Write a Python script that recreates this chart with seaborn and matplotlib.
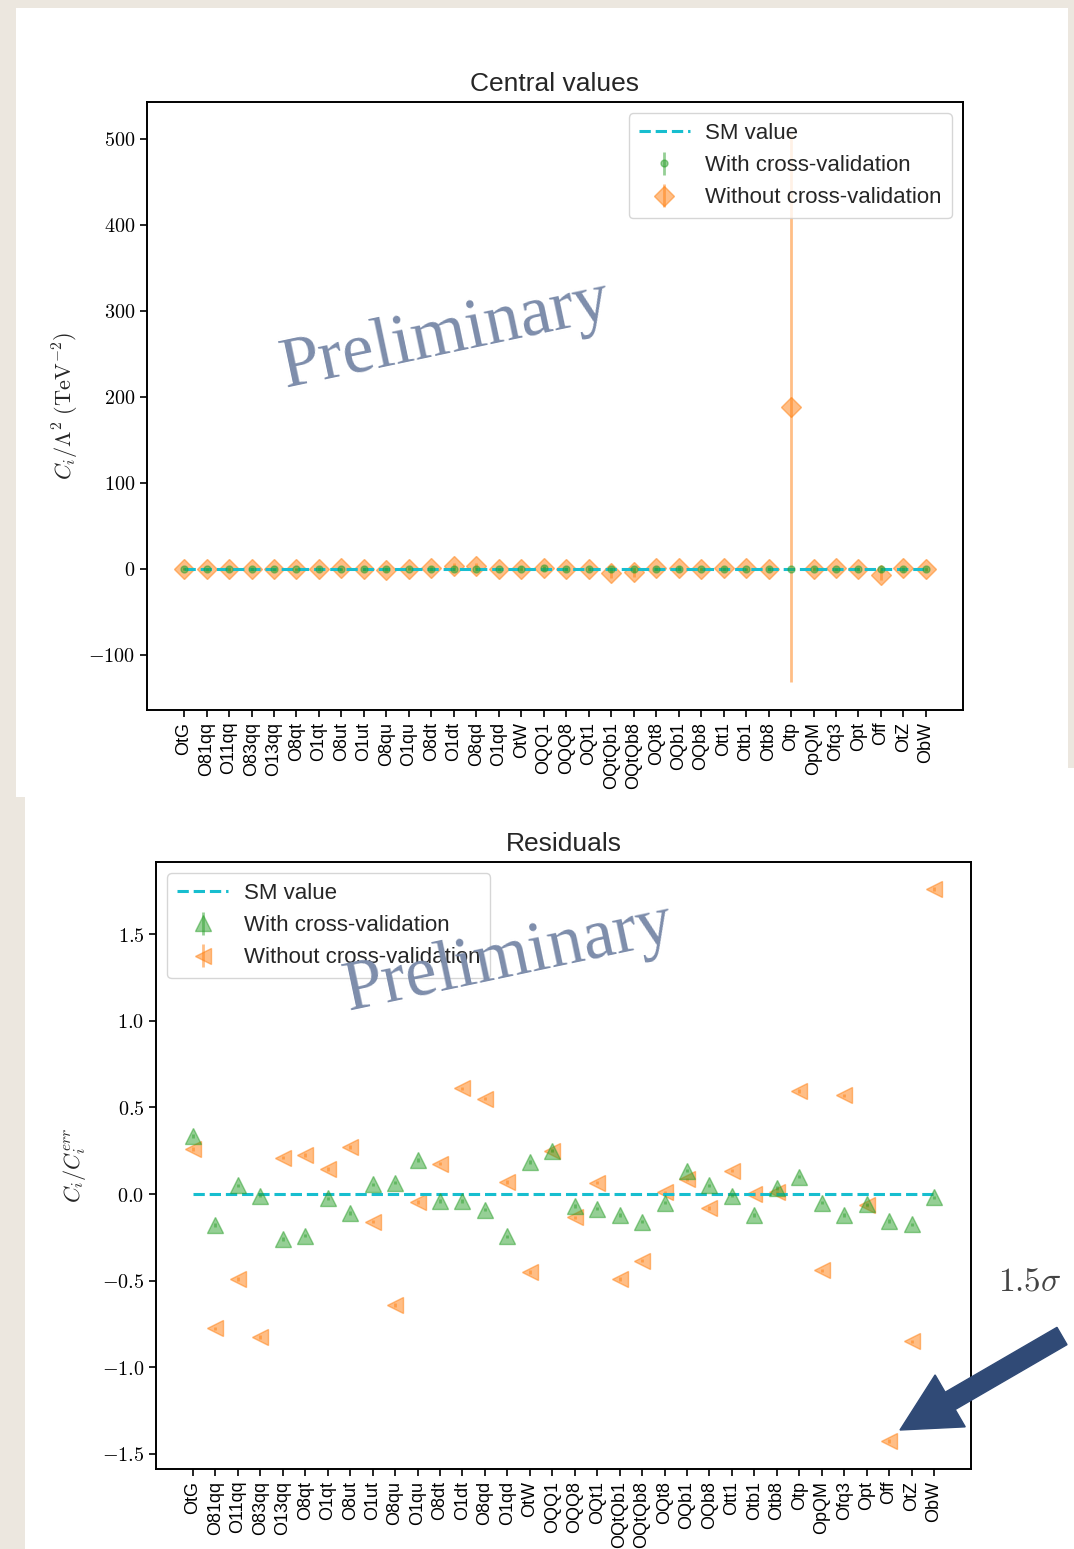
import numpy as np
import matplotlib
matplotlib.use("Agg")
import matplotlib.pyplot as plt
import seaborn as sns
import pandas as pd
from matplotlib.patches import Rectangle, FancyArrow
from matplotlib.ticker import FuncFormatter

labels = ['OtG', 'O81qq', 'O11qq', 'O83qq', 'O13qq', 'O8qt', 'O1qt', 'O8ut', 'O1ut',
          'O8qu', 'O1qu', 'O8dt', 'O1dt', 'O8qd', 'O1qd', 'OtW', 'OQQ1', 'OQQ8',
          'OQt1', 'OQtQb1', 'OQtQb8', 'OQt8', 'OQb1', 'OQb8', 'Ott1', 'Otb1', 'Otb8',
          'Otp', 'OpQM', 'Ofq3', 'Opt', 'Off', 'OtZ', 'ObW']

# central values (TeV^-2)
cv_central = [0.4, -0.3, 0.2, -0.1, -0.4, -0.3, -0.1, -0.3, 0.2, 0.3, 0.5, -0.1, -0.1,
              -0.3, -0.6, 0.5, 0.8, -0.2, -0.3, -0.4, -0.5, -0.1, 0.4, 0.1, -0.1, -0.3,
              0.1, 0.0, -0.1, -0.3, -0.2, -0.4, -0.5, -0.1]
cv_err = [1.5, 2.0, 2.0, 2.5, 2.0, 2.0, 2.0, 2.0, 2.0, 2.5, 2.0, 2.5, 2.5, 2.5, 2.0, 2.5,
          3.0, 2.5, 2.5, 3.0, 3.0, 2.5, 2.5, 2.5, 2.0, 2.0, 2.0, 0.5, 2.0, 2.0, 2.5, 3.0,
          2.5, 2.0]
nocv_central = [0.0, -0.5, -0.5, 0.0, 0.5, 0.0, 0.3, 0.8, 0.0, -1.5, 0.3, 1.0, 3.0, 3.5,
                0.3, 0.0, 1.0, -0.3, 0.3, -5.0, -4.0, 1.0, 0.8, 0.0, 0.6, 0.6, 0.3, 188.0,
                0.3, 0.8, 0.0, -7.0, 0.6, -0.3]
nocv_err = [1.5, 1.5, 1.5, 1.5, 1.5, 1.5, 1.5, 1.5, 1.5, 2.5, 1.5, 3.0, 3.5, 3.5, 1.5, 1.5,
            2.5, 1.5, 1.5, 6.0, 5.0, 1.5, 1.5, 1.5, 1.5, 1.5, 1.5, 320.0, 1.5, 1.5, 1.5,
            6.0, 1.5, 1.5]

# residuals C_i / C_i^err
cv_resid = [0.335, -0.18, 0.05, -0.01, -0.26, -0.24, -0.025, -0.11, 0.055, 0.065, 0.195,
            -0.04, -0.04, -0.09, -0.245, 0.185, 0.25, -0.07, -0.085, -0.12, -0.16, -0.05,
            0.135, 0.05, -0.01, -0.12, 0.035, 0.10, -0.05, -0.12, -0.06, -0.155, -0.175,
            -0.02]
nocv_resid = [0.26, -0.775, -0.49, -0.825, 0.21, 0.225, 0.145, 0.27, -0.16, -0.64, -0.045,
              0.175, 0.61, 0.55, 0.07, -0.45, 0.25, -0.135, 0.065, -0.49, -0.385, 0.01,
              0.085, -0.08, 0.135, 0.0, 0.01, 0.595, -0.44, 0.57, -0.065, -1.425, -0.85,
              1.76]
resid_err = [0.01] * len(labels)

sns.set_style("ticks")
plt.rcParams['font.family'] = ['Liberation Sans', 'DejaVu Sans']
plt.rcParams['mathtext.fontset'] = 'cm'
plt.rcParams['axes.edgecolor'] = 'black'
plt.rcParams['xtick.color'] = 'black'
plt.rcParams['ytick.color'] = 'black'

W, H = 1074, 1549
fig = plt.figure(figsize=(W / 100, H / 100), dpi=100)
fig.patch.set_facecolor('#ece7df')

# white slide panels (behind the axes)
fig.patches.append(Rectangle((16 / W, 1 - 797 / H), (1068 - 16) / W, (797 - 8) / H,
                             transform=fig.transFigure, facecolor='white', edgecolor='none', zorder=-5))
fig.patches.append(Rectangle((25 / W, 0), (W - 25) / W, 1 - 768 / H,
                             transform=fig.transFigure, facecolor='white', edgecolor='none', zorder=-5))


def px_axes(l, t, r, b):
    return fig.add_axes([l / W, 1 - b / H, (r - l) / W, (b - t) / H])


x = np.arange(len(labels))
sm = pd.DataFrame({'x': x, 'y': np.zeros(len(labels))})
green = '#2ca02c'
orange = '#ff7f0e'
cyan = '#17becf'
leg_kw = dict(fontsize=16, handlelength=2.3, handletextpad=0.7, borderpad=0.45,
              labelspacing=0.5)

# ---- central values
ax1 = px_axes(147, 102, 963, 710)
sns.lineplot(data=sm, x='x', y='y', ax=ax1, color=cyan, linestyle='--', lw=2.2,
             label='SM value', zorder=3)
ax1.errorbar(x, cv_central, yerr=cv_err, fmt='o', color=green, alpha=0.5, ms=5,
             lw=2, label='With cross-validation', zorder=4)
ax1.errorbar(x, nocv_central, yerr=nocv_err, fmt='D', color=orange, alpha=0.5, ms=10.5,
             lw=2, label='Without cross-validation', zorder=2)
ax1.set_ylim(-164, 543)
ax1.set_yticks([-100, 0, 100, 200, 300, 400, 500])
ax1.yaxis.set_major_formatter(FuncFormatter(lambda v, _: f"${v:g}$"))
ax1.set_title('Central values', fontsize=19, pad=8)
ax1.set_ylabel(r'$C_i/\Lambda^2\ (\mathrm{TeV}^{-2})$', fontsize=16, labelpad=5)
ax1.set_xlabel('')
ax1.legend(loc='upper right', **leg_kw)

# ---- residuals
ax2 = px_axes(156, 862, 971, 1469)
sns.lineplot(data=sm, x='x', y='y', ax=ax2, color=cyan, linestyle='--', lw=2.2,
             label='SM value', zorder=3)
ax2.errorbar(x, cv_resid, yerr=resid_err, fmt='^', color=green, alpha=0.5, ms=12,
             lw=2, label='With cross-validation', zorder=4)
ax2.errorbar(x, nocv_resid, yerr=resid_err, fmt='<', color=orange, alpha=0.5, ms=12,
             lw=2, label='Without cross-validation', zorder=2)
ax2.set_ylim(-1.587, 1.916)
ax2.set_yticks([-1.5, -1.0, -0.5, 0.0, 0.5, 1.0, 1.5])
ax2.yaxis.set_major_formatter(FuncFormatter(lambda v, _: f"${v:.1f}$"))
ax2.set_title('Residuals', fontsize=19, pad=8)
ax2.set_ylabel(r'$C_i/C_i^{err}$', fontsize=16, labelpad=10)
ax2.set_xlabel('')
ax2.legend(loc='upper left', **leg_kw)

for ax in (ax1, ax2):
    ax.set_facecolor('white')
    ax.set_xlim(-1.65, len(labels) - 1 + 1.65)
    ax.set_xticks(x)
    ax.set_xticklabels(labels, rotation=90, fontsize=13)
    ax.tick_params(axis='y', labelsize=14.5, direction='out', length=5, width=1.2)
    ax.tick_params(axis='x', direction='out', length=5, width=1.2)
    for s in ax.spines.values():
        s.set_linewidth(1.4)
        s.set_visible(True)

# watermarks
wm = dict(fontsize=51, color='#7d8dab', family=['Liberation Serif', 'DejaVu Serif'],
          ha='center', va='center', rotation=12, rotation_mode='anchor', zorder=10)
fig.text(446 / W, 1 - 335 / H, 'Preliminary', **wm)
fig.text(509 / W, 1 - 958 / H, 'Preliminary', **wm)

# overlay for arrow + annotation
ov = fig.add_axes([0, 0, 1, 1], zorder=20)
ov.set_xlim(0, W)
ov.set_ylim(H, 0)
ov.axis('off')
ov.add_patch(FancyArrow(1062, 1336, -162, 94, width=20, head_width=60, head_length=58,
                        length_includes_head=True, color='#304a76', zorder=21))
ov.text(1030, 1282, r'$1.5\sigma$', fontsize=24, color='#444444', ha='center',
        va='center')

fig.savefig('out.png', dpi=100, facecolor=fig.get_facecolor())
